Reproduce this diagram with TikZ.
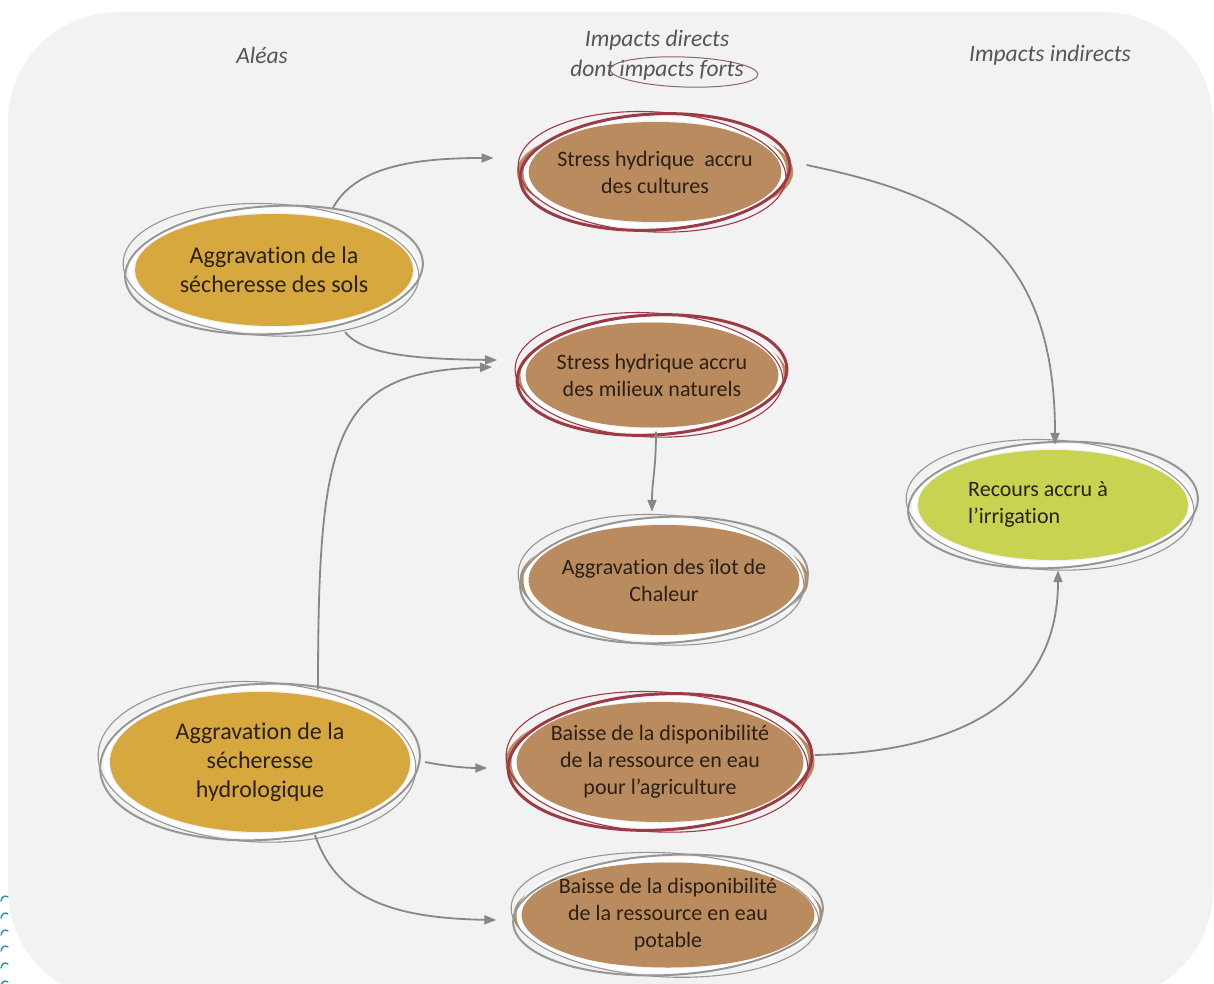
\documentclass[tikz,border=0pt]{standalone}
\usepackage{fontspec}
\setmainfont{Carlito}[Ligatures=NoCommon]
\usetikzlibrary{arrows.meta,shapes.geometric,calc}
\definecolor{bg}{RGB}{242,242,242}
\definecolor{gold}{RGB}{215,168,62}
\definecolor{brownfill}{RGB}{186,139,95}
\definecolor{greenfill}{RGB}{200,211,82}
\definecolor{redring}{RGB}{158,58,70}
\definecolor{greyring}{RGB}{150,150,150}
\definecolor{arrowgrey}{RGB}{135,135,135}
\definecolor{txt}{RGB}{42,32,20}
\definecolor{hdr}{RGB}{85,85,85}
\definecolor{ovalc}{RGB}{140,100,110}
\definecolor{teal}{RGB}{40,140,165}
\newcommand\myring[5]{%
  \draw[white, line width=5pt] (#1) ellipse [x radius=#2+4, y radius=#3+4];
  \draw[#4, line width=#5, rotate around={3:(#1)}] (#1) ellipse [x radius=#2+10, y radius=#3+8];
  \draw[#4, line width=1.1pt, rotate around={-3:(#1)}] ([xshift=-3pt]#1.center) ellipse [x radius=#2+9, y radius=#3+10];
}
\begin{document}
\begin{tikzpicture}[x=1pt,y=-1pt,
  base/.style={ellipse, inner sep=0pt, text=txt, align=center},
  goldnode/.style={base, fill=gold, font=\fontsize{24}{29}\selectfont},
  brownnode/.style={base, fill=brownfill, font=\fontsize{22}{27}\selectfont},
  greennode/.style={base, fill=greenfill, font=\fontsize{22}{27}\selectfont},
  header/.style={text=hdr, font=\fontsize{23.5}{29.5}\selectfont\itshape, inner sep=0pt},
  arr/.style={draw=arrowgrey, line width=1.8pt, -{Triangle[length=12pt,width=9pt]}}
]
\useasboundingbox (0,0) rectangle (1214,984);
\fill[bg, rounded corners=110pt] (8,12) rectangle (1213,1000);
% teal marks
\foreach \yy in {898,915,932,948,965,983}{
  \draw[teal, line width=1.3pt, line cap=round] (1,\yy+3) .. controls (2,\yy-2) and (5,\yy-3) .. (8,\yy-1);
}
% headers
\node[header] (hA) at (262,55) {Aléas};
\node[header] (hD1) at (657,40) {Impacts directs};
\node[header] (hD2) at (657,70) {dont impacts forts};
\node[header] (hI) at (1050,55) {Impacts indirects};
\coordinate (ov) at (684,72);
\draw[ovalc, line width=1pt, rotate around={-2:(ov)}] (ov) ellipse [x radius=74, y radius=15];
% nodes
\node[goldnode, minimum width=278, minimum height=112] (sols) at (274,270) {Aggravation de la\\sécheresse des sols};
\node[goldnode, minimum width=300, minimum height=140] (hydro) at (260,762) {Aggravation de la\\sécheresse\\hydrologique};
\node[brownnode, minimum width=250, minimum height=100] (cultures) at (655,172) {Stress hydrique\ \ accru\\des cultures};
\node[brownnode, minimum width=250, minimum height=105] (milieux) at (652,375) {Stress hydrique accru\\des milieux naturels};
\node[brownnode, minimum width=268, minimum height=110] (ilot) at (664,580) {Aggravation des îlot de\\Chaleur};
\node[brownnode, minimum width=285, minimum height=120] (agri) at (660,762) {Baisse de la disponibilité\\de la ressource en eau\\pour l’agriculture};
\node[brownnode, minimum width=290, minimum height=105] (potable) at (668,915) {Baisse de la disponibilité\\de la ressource en eau\\potable};
\node[greennode, minimum width=270, minimum height=110] (irrig) at (1053,505) {\begin{tabular}{@{}l@{}}Recours accru à\\l’irrigation\end{tabular}\hspace*{30pt}};
% rings
\myring{sols}{139}{56}{greyring}{2pt}
\myring{hydro}{150}{70}{greyring}{2pt}
\myring{cultures}{125}{50}{redring}{3pt}
\myring{milieux}{125}{52}{redring}{3pt}
\myring{ilot}{134}{55}{greyring}{2pt}
\myring{agri}{142}{60}{redring}{3pt}
\myring{potable}{145}{52}{greyring}{2pt}
\myring{irrig}{135}{55}{greyring}{2pt}
% connectors
\draw[arr] ([xshift=59pt,yshift=6pt]sols.north) .. controls (355,168) and (410,158) .. ([xshift=-23pt,yshift=14pt]cultures.west);
\draw[arr] ([xshift=71pt,yshift=-6pt]sols.south) .. controls (362,352) and (400,359) .. ([xshift=-20pt,yshift=15pt]milieux.west);
\draw[arr] ([xshift=58pt,yshift=3pt]hydro.north) .. controls (318,430) and (335,372) .. ([xshift=-25pt,yshift=8pt]milieux.west);
\draw[arr] ([xshift=15pt]hydro.east) .. controls (450,767) and (470,768) .. ([xshift=-18pt,yshift=-6pt]agri.west);
\draw[arr] ([xshift=55pt,yshift=-3pt]hydro.south) .. controls (335,892) and (380,918) .. ([xshift=-17pt,yshift=-5pt]potable.west);
\draw[arr] ([xshift=4pt,yshift=-4pt]milieux.south) .. controls (656,470) and (652,480) .. ([xshift=-12pt,yshift=13pt]ilot.north);
\draw[arr] ([xshift=13pt,yshift=7pt]cultures.east) .. controls (950,195) and (1055,240) .. ([xshift=2pt,yshift=5pt]irrig.north);
\draw[arr] ([yshift=7pt]agri.east) .. controls (960,752) and (1058,700) .. ([xshift=5pt,yshift=-10pt]irrig.south);
\end{tikzpicture}
\end{document}
